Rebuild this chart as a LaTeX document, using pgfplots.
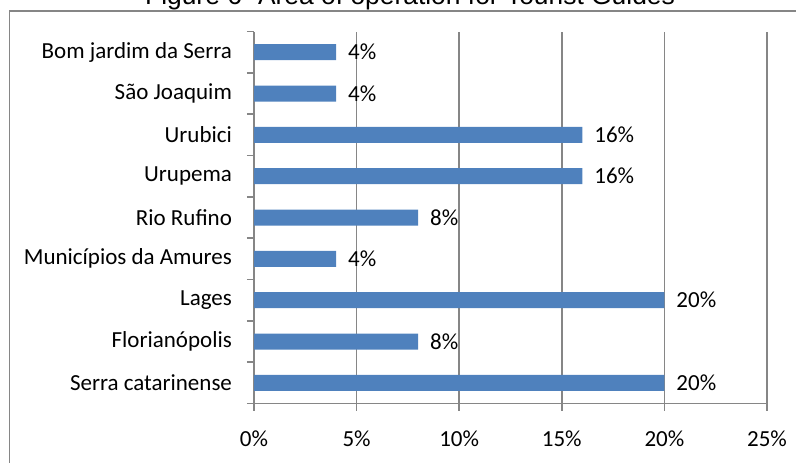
\documentclass[border=0pt]{standalone}
\usepackage{fontspec}
\setmainfont{Carlito}
\newfontfamily\arialfont{Liberation Sans}
\usepackage{pgfplots}
\pgfplotsset{compat=1.18}
\definecolor{barblue}{HTML}{4F81BD}
\definecolor{gridgray}{HTML}{868686}
\begin{document}
\begin{tikzpicture}
\useasboundingbox (0,0) rectangle (398pt,231pt);
% outer chart frame
\draw[gridgray, line width=0.75pt] (4.75pt,-5pt) -- (4.75pt,225.5pt) -- (410pt,225.5pt);
% title (cut off at the top, as in the reference)
\node[anchor=base, inner sep=0pt, font=\arialfont\fontsize{13.2}{15}\selectfont] at (205pt,229pt) {Figure 6- Area of operation for Tourist Guides};
\begin{axis}[
  at={(127pt,29.25pt)}, anchor=south west,
  scale only axis, width=256.5pt, height=186pt,
  xbar, bar width=8pt,
  xmin=0, xmax=25, ymin=-0.5, ymax=8.5,
  axis x line*=bottom, axis y line*=left,
  axis line style={draw=gridgray, line width=0.75pt},
  every tick/.style={draw=gridgray, line width=0.75pt},
  tick align=outside, major tick length=3.5pt,
  xtick={0,5,10,15,20,25},
  xticklabels={0\%,5\%,10\%,15\%,20\%,25\%},
  xmajorgrids, major grid style={draw=gridgray, line width=0.75pt},
  ytick={-0.5,0.5,...,8.5},
  y tick label as interval,
  yticklabels={Serra catarinense,Florianópolis,Lages,Municípios da Amures,Rio Rufino,Urupema,Urubici,São Joaquim,Bom jardim da Serra},
  xticklabel shift=6.5pt, yticklabel shift=4pt,
  tick label style={font=\fontsize{11.5}{13}\selectfont, text=black},
  /pgf/number format/assume math mode=true,
  point meta=x,
  nodes near coords={\pgfmathprintnumber{\pgfplotspointmeta}\%},
  nodes near coords style={anchor=west, xshift=2.5pt, font=\fontsize{11.5}{13}\selectfont, text=black},
  clip=false,
]
\addplot[fill=barblue, draw=none] coordinates {
  (20,0) (8,1) (20,2) (4,3) (8,4) (16,5) (16,6) (4,7) (4,8)
};
\end{axis}
\end{tikzpicture}
\end{document}
